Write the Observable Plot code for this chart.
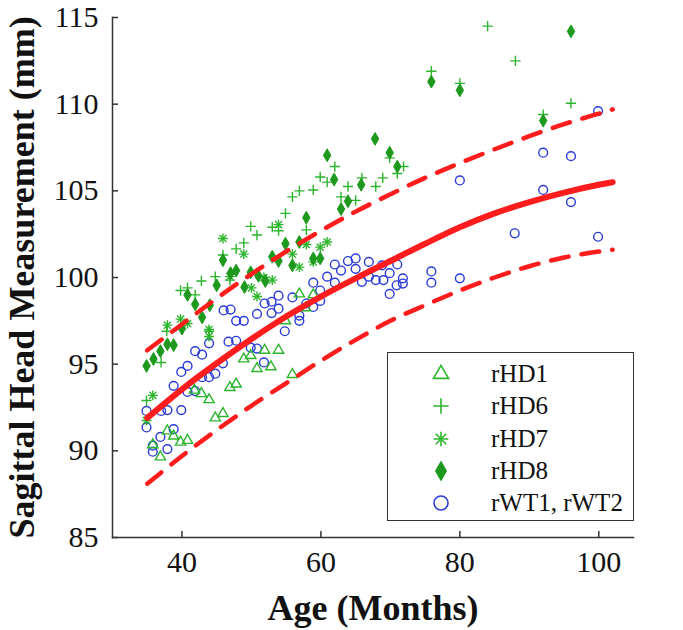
<!DOCTYPE html>
<html><head><meta charset="utf-8">
<script src="https://cdn.jsdelivr.net/npm/d3@7"></script>
<script src="https://cdn.jsdelivr.net/npm/@observablehq/plot@0.6"></script>
<style>
html,body{margin:0;padding:0;background:#fff;}
#wrap{position:relative;width:683px;height:630px;}
#wrap svg text{font-family:"Liberation Serif",serif;}
[aria-label="x-axis label"] text,[aria-label="y-axis label"] text,
[aria-label="x-axis label"],[aria-label="y-axis label"]{font-size:36px;font-weight:bold;}
#legend{position:absolute;left:387px;top:352px;width:245px;height:167px;border:1.5px solid #333;background:#fff;font-family:"Liberation Serif",serif;font-size:25px;color:#111;}
.row{position:absolute;left:0;width:240px;height:32px;}
.row svg{position:absolute;left:33px;top:0;}
.row span{position:absolute;left:103px;top:1px;line-height:30px;white-space:nowrap;}
</style></head><body><div id="wrap"></div>
<script>
// ---- data (age in months, sagittal head measurement in mm) ----
const rHD1 = [[35.8,90.35],[36.9,89.65],[37.9,91.15],[38.8,90.85],[39.8,90.5],[40.8,90.6],[41.8,93.5],[42.8,93.3],[43.9,92.95],[44.8,91.9],[45.9,92.15],[46.9,93.65],[47.8,93.85],[48.9,95.3],[49.9,95.5],[50.8,94.75],[51.9,95.8],[52.8,94.85],[53.9,95.8],[54.9,97.5],[55.9,94.4],[56.9,99.05],[57.8,98.25],[58.9,99.0]];
const rHD6 = [[34.9,92.9],[37.0,95.1],[37.8,96.9],[39.8,99.25],[40.8,99.4],[41.9,99.0],[42.8,99.8],[43.9,96.9],[44.8,100.05],[45.9,101.3],[46.9,99.85],[47.8,101.65],[48.9,102.0],[49.9,102.95],[50.8,102.45],[53.0,102.9],[53.9,102.7],[54.9,103.7],[55.9,104.65],[56.9,105.0],[57.9,102.75],[58.9,105.05],[59.9,105.8],[60.9,105.5],[62.0,106.4],[62.9,104.65],[63.9,105.25],[65.0,104.45],[65.9,105.75],[67.9,105.25],[68.9,105.75],[69.9,106.9],[71.0,106.0],[71.9,106.4],[75.9,111.9],[80.0,111.2],[84.0,114.5],[88.0,112.5],[92.0,109.4],[96.0,110.05]];
const rHD7 = [[34.9,91.75],[35.8,93.2],[37.9,97.25],[39.8,97.6],[40.8,97.35],[43.9,97.0],[43.9,96.6],[45.9,102.25],[46.9,100.05],[48.9,101.35],[50.0,99.4],[50.8,98.9],[51.8,100.0],[53.0,99.85],[53.9,103.05],[55.9,101.35],[56.9,100.6],[57.9,101.9],[58.9,100.9],[59.9,101.75],[60.9,102.05]];
const rHD8 = [[34.9,94.9],[35.9,95.3],[36.9,95.75],[37.9,96.15],[38.8,96.1],[40.0,97.05],[40.8,99.0],[41.9,98.45],[42.9,97.7],[44.0,98.4],[45.0,99.55],[45.9,101.0],[47.0,100.25],[47.8,100.4],[49.0,99.45],[49.9,100.3],[51.0,100.1],[52.0,99.8],[53.0,101.2],[53.9,100.95],[54.9,101.95],[55.9,100.7],[56.9,102.05],[57.9,103.45],[58.9,101.1],[59.9,101.1],[60.9,107.05],[61.9,105.65],[62.9,103.95],[63.9,104.4],[65.8,105.35],[67.8,108.0],[69.9,107.2],[71.0,106.4],[75.9,111.3],[80.0,110.8],[92.0,109.05],[96.0,114.2]];
const rWT = [[34.9,92.3],[34.9,91.35],[35.8,90.3],[35.8,89.95],[36.9,90.8],[37.0,92.3],[37.9,92.35],[37.9,90.1],[38.8,91.25],[38.8,93.75],[39.9,92.35],[39.9,94.55],[40.8,94.9],[40.8,93.4],[41.9,95.75],[41.9,93.45],[42.9,95.55],[42.9,94.25],[43.9,96.2],[43.9,94.25],[44.8,94.45],[45.9,95.05],[46.0,98.1],[47.0,98.15],[46.7,96.3],[47.8,96.35],[47.8,97.5],[48.9,97.5],[49.9,95.95],[50.8,95.9],[51.8,95.1],[50.8,97.9],[51.9,98.5],[52.9,98.6],[52.9,97.95],[53.9,98.95],[53.9,98.2],[54.8,96.9],[55.9,98.85],[56.9,97.8],[56.9,97.5],[57.9,98.5],[58.9,99.7],[58.9,98.3],[59.9,99.25],[59.9,98.65],[60.9,100.05],[62.0,100.75],[62.0,99.7],[62.9,100.4],[63.9,100.95],[65.0,101.1],[65.0,100.5],[65.9,99.75],[66.9,100.9],[66.9,100.05],[67.9,99.85],[68.8,100.7],[69.0,99.85],[69.9,100.25],[69.9,99.05],[71.0,100.75],[71.8,99.95],[71.8,99.65],[70.9,99.55],[75.9,100.35],[75.9,99.7],[80.0,99.95],[80.0,105.6],[87.9,102.55],[92.0,105.05],[92.0,107.2],[96.0,104.35],[96.0,107.0],[99.9,102.35],[99.9,109.6]];
const fitAge   = [35, 40, 45, 50, 55, 60, 65, 70, 75, 80, 85, 90, 95, 100, 102];
const fitMean  = [91.9, 93.55, 95.05, 96.45, 97.75, 98.9, 99.95, 100.95, 101.95, 102.9, 103.7, 104.35, 104.9, 105.35, 105.5];
const fitUpper = [95.8, 97.3, 98.8, 100.2, 101.5, 102.7, 103.8, 104.8, 105.75, 106.6, 107.4, 108.15, 108.85, 109.45, 109.7];
const fitLower = [88.1, 89.7, 91.2, 92.6, 93.9, 95.2, 96.4, 97.5, 98.4, 99.25, 100.0, 100.65, 101.15, 101.5, 101.6];
const xTicks = [40, 60, 80, 100];
const yTicks = [85, 90, 95, 100, 105, 110, 115];
const legendLabels = ["rHD1", "rHD6", "rHD7", "rHD8", "rWT1, rWT2"];

// ---- styling ----
const green = "#2cb52c", dgreen = "#1d9a1d", blue = "#2b3bd8", red = "#ff1c1c", axisCol = "#333";
const pts = a => a.map(([x, y]) => ({x, y}));
const fit = fitAge.map((a, i) => ({age: a, mean: fitMean[i], up: fitUpper[i], lo: fitLower[i]}));

const chart = Plot.plot({
  width: 683, height: 630,
  marginLeft: 112, marginRight: 50, marginTop: 17, marginBottom: 93,
  style: {fontFamily: '"Liberation Serif", serif', fontSize: "30px", color: "#111", background: "#fff", overflow: "visible"},
  x: {domain: [30, 105]},
  y: {domain: [85, 115]},
  marks: [
    Plot.dot(pts(rWT), {x: "x", y: "y", symbol: "circle", r: 4.4, stroke: blue, strokeWidth: 1.4, fill: "none"}),
    Plot.dot(pts(rHD1), {x: "x", y: "y", symbol: "triangle", r: 3.8, stroke: green, strokeWidth: 1.4, fill: "none"}),
    Plot.dot(pts(rHD6), {x: "x", y: "y", symbol: "plus", r: 3.4, stroke: green, strokeWidth: 1.4}),
    Plot.dot(pts(rHD7), {x: "x", y: "y", symbol: "plus", r: 3.3, stroke: green, strokeWidth: 1.4}),
    Plot.dot(pts(rHD7), {x: "x", y: "y", symbol: "times", r: 3.3, stroke: green, strokeWidth: 1.4}),
    Plot.dot(pts(rHD8), {x: "x", y: "y", symbol: "diamond", r: 3.9, fill: dgreen, stroke: dgreen, strokeWidth: 1}),
    Plot.line(fit, {x: "age", y: "up", stroke: red, strokeWidth: 4.5, strokeDasharray: "18,13", curve: "monotone-x"}),
    Plot.line(fit, {x: "age", y: "lo", stroke: red, strokeWidth: 4.5, strokeDasharray: "18,13", curve: "monotone-x"}),
    Plot.line(fit, {x: "age", y: "mean", stroke: red, strokeWidth: 6, curve: "monotone-x"}),
    Plot.axisX({ticks: xTicks, tickSize: -6, tickPadding: 19, stroke: axisCol, strokeWidth: 1.5, label: null, fontSize: 30}),
    Plot.axisY({ticks: yTicks, tickSize: -6, tickPadding: 20, stroke: axisCol, strokeWidth: 1.5, label: null, fontSize: 30}),
    Plot.axisX({ticks: [], tickSize: 0, label: "Age (Months)", labelAnchor: "center", labelArrow: "none", labelOffset: 82}),
    Plot.axisY({ticks: [], tickSize: 0, label: "Sagittal Head Measurement (mm)", labelAnchor: "center", labelArrow: "none", labelOffset: 104}),
    Plot.frame({anchor: "left", stroke: axisCol, strokeWidth: 1.5}),
    Plot.frame({anchor: "bottom", stroke: axisCol, strokeWidth: 1.5})
  ]
});
const wrap = document.getElementById("wrap");
wrap.appendChild(chart);

// ---- legend (inside the axes, drawn as HTML) ----
const legendSpec = [
  {sym: d3.symbolTriangle, r: 5.6, fill: "none", stroke: green},
  {sym: d3.symbolPlus, r: 5.0, fill: "none", stroke: green},
  {sym: "ast", r: 4.8, fill: "none", stroke: green},
  {sym: d3.symbolDiamond, r: 5.4, fill: dgreen, stroke: dgreen},
  {sym: d3.symbolCircle, r: 7.0, fill: "none", stroke: blue}
];
const legend = document.createElement("div");
legend.id = "legend";
legendLabels.forEach((lab, i) => {
  const row = document.createElement("div");
  row.className = "row";
  row.style.top = (5 + i * 32.3) + "px";
  const spec = legendSpec[i];
  const svg = d3.create("svg").attr("width", 40).attr("height", 32);
  const g = svg.append("g").attr("transform", "translate(20,16)");
  const types = spec.sym === "ast" ? [d3.symbolPlus, d3.symbolTimes] : [spec.sym];
  types.forEach(t => g.append("path")
    .attr("d", d3.symbol(t, Math.PI * spec.r * spec.r)())
    .attr("fill", spec.fill).attr("stroke", spec.stroke).attr("stroke-width", 1.6));
  row.appendChild(svg.node());
  const span = document.createElement("span");
  span.textContent = lab;
  row.appendChild(span);
  legend.appendChild(row);
});
wrap.appendChild(legend);
</script>
</body></html>
